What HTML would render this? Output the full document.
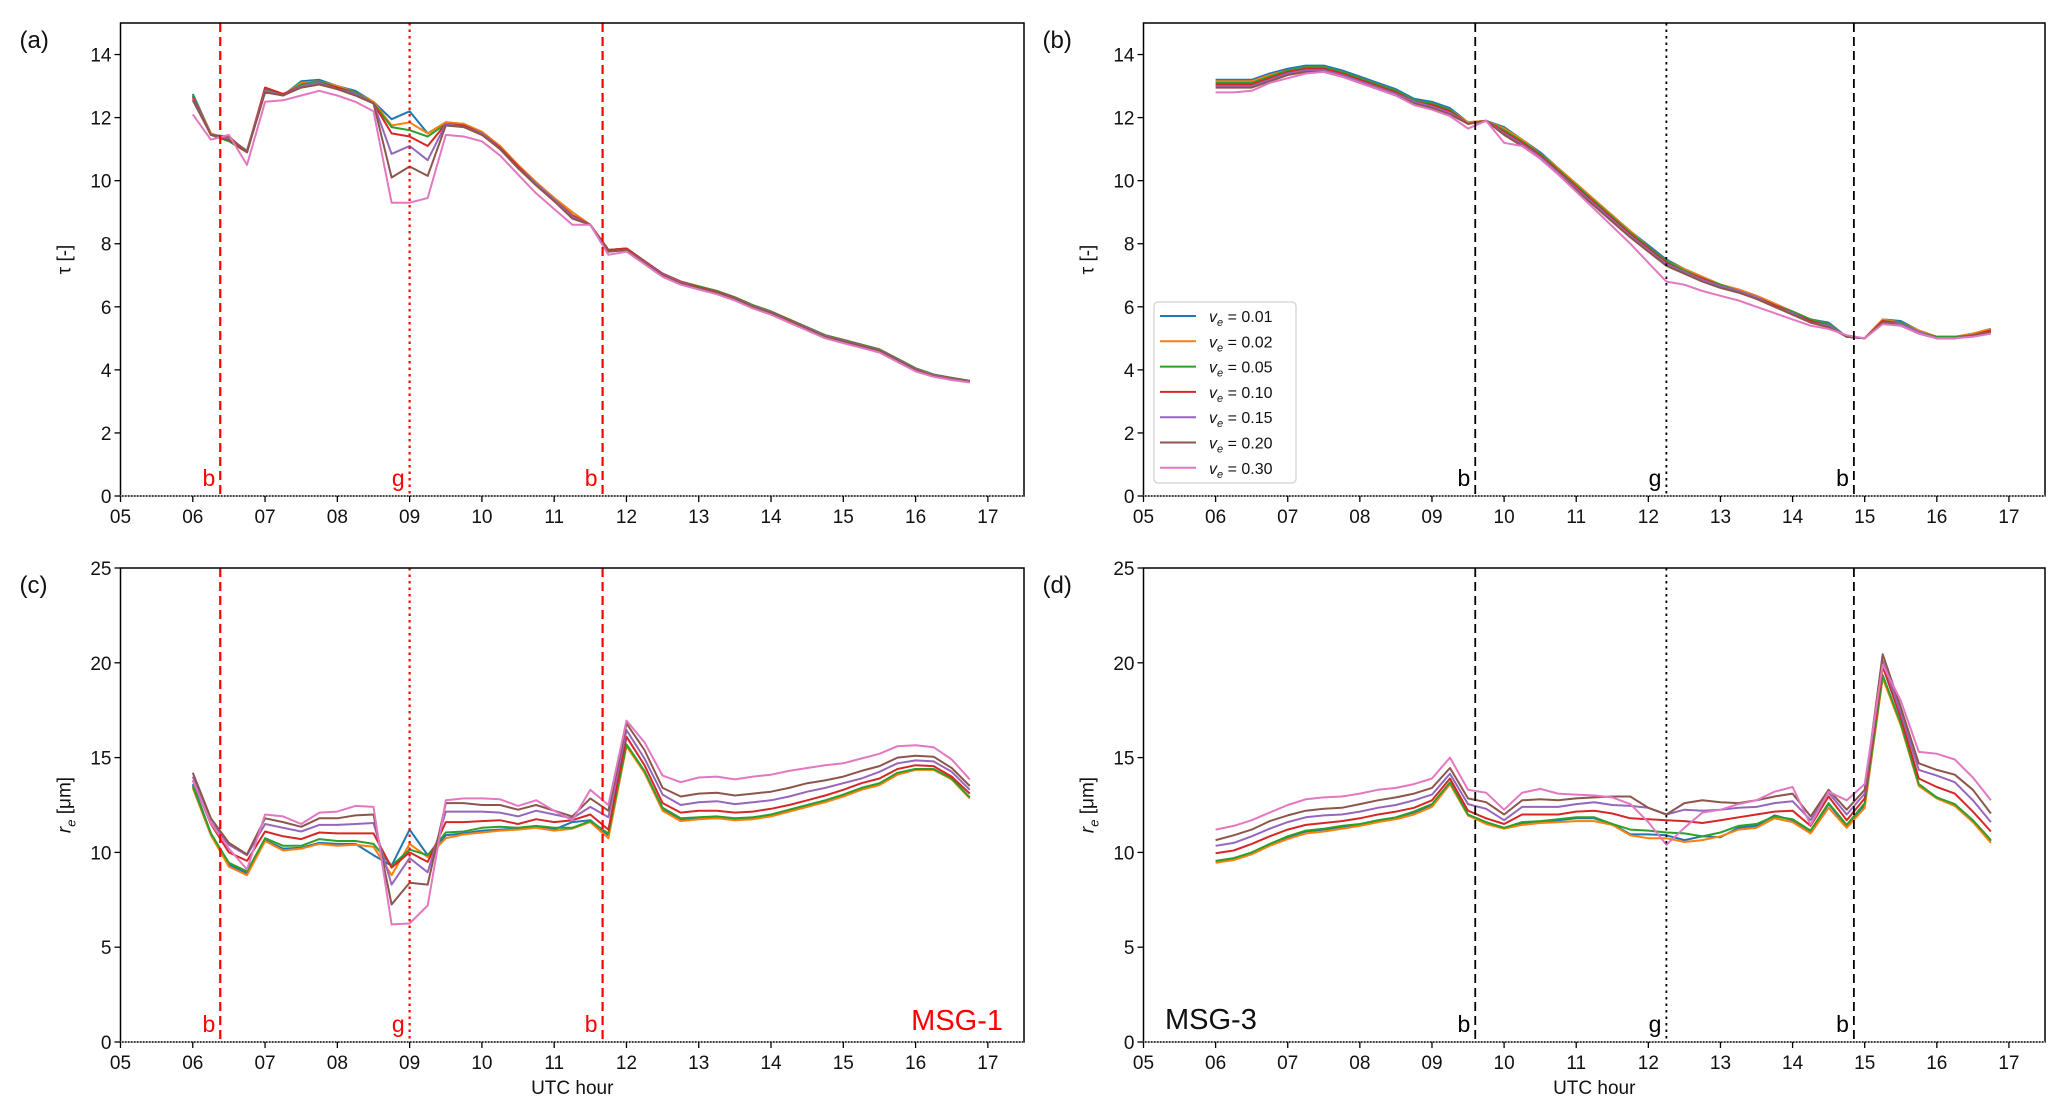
<!DOCTYPE html>
<html><head><meta charset="utf-8"><style>
html,body{margin:0;padding:0;background:#fff;}
svg{display:block;font-family:"Liberation Sans","DejaVu Sans",sans-serif;}
</style></head><body>
<svg id="fig" width="2067" height="1118" viewBox="0 0 2067 1118" xmlns="http://www.w3.org/2000/svg"></svg>
<script>
const hours = [];
for (let i = 0; i < 44; i++) hours.push(6 + i * 0.25);
const seriesLabels = ["0.01","0.02","0.05","0.10","0.15","0.20","0.30"];
const seriesColors = ["#1f77b4","#ff7f0e","#2ca02c","#d62728","#9467bd","#8c564b","#e377c2"];
const xTickLabels = ["05","06","07","08","09","10","11","12","13","14","15","16","17"];
const tauTicks = [0,2,4,6,8,10,12,14];
const reTicks = [0,5,10,15,20,25];

const tauA_001=[12.75,11.5,11.3,10.95,12.9,12.7,13.15,13.2,13.0,12.85,12.5,11.95,12.2,11.5,11.85,11.8,11.55,11.1,10.5,9.95,9.45,9.0,8.6,7.8,7.85,7.45,7.05,6.8,6.65,6.5,6.3,6.05,5.85,5.6,5.35,5.1,4.95,4.8,4.65,4.35,4.05,3.85,3.75,3.65];
const tauA_002=[12.7,11.5,11.3,10.95,12.95,12.7,13.1,13.15,13.0,12.8,12.5,11.75,11.85,11.5,11.85,11.8,11.55,11.1,10.5,9.95,9.45,9.0,8.6,7.8,7.85,7.45,7.05,6.8,6.65,6.5,6.3,6.05,5.85,5.6,5.35,5.1,4.95,4.8,4.65,4.35,4.05,3.85,3.75,3.65];
const tauA_005=[12.7,11.45,11.25,10.9,12.9,12.7,13.05,13.15,12.95,12.8,12.45,11.7,11.6,11.4,11.8,11.75,11.5,11.05,10.45,9.9,9.4,8.9,8.6,7.8,7.85,7.45,7.05,6.8,6.65,6.5,6.3,6.05,5.85,5.6,5.35,5.1,4.95,4.8,4.65,4.35,4.05,3.85,3.75,3.65];
const tauA_010=[12.65,11.45,11.3,10.9,12.95,12.75,13.0,13.1,12.95,12.75,12.45,11.5,11.4,11.1,11.8,11.75,11.5,11.05,10.45,9.9,9.4,8.9,8.6,7.8,7.85,7.45,7.05,6.8,6.62,6.48,6.28,6.03,5.83,5.58,5.33,5.08,4.93,4.78,4.63,4.33,4.03,3.83,3.73,3.64];
const tauA_015=[12.6,11.45,11.35,10.95,12.85,12.7,13.0,13.1,12.9,12.75,12.45,10.85,11.1,10.65,11.8,11.7,11.5,11.0,10.4,9.9,9.4,8.85,8.6,7.75,7.8,7.42,7.02,6.78,6.6,6.46,6.26,6.02,5.82,5.56,5.32,5.07,4.92,4.77,4.62,4.32,4.02,3.82,3.72,3.63];
const tauA_020=[12.55,11.45,11.4,10.9,12.8,12.7,12.95,13.05,12.9,12.7,12.45,10.1,10.45,10.15,11.75,11.7,11.45,11.0,10.4,9.85,9.35,8.8,8.6,7.75,7.8,7.4,7.0,6.75,6.6,6.45,6.25,6.0,5.8,5.55,5.3,5.05,4.9,4.75,4.6,4.3,4.0,3.8,3.7,3.62];
const tauA_030=[12.1,11.3,11.45,10.5,12.5,12.55,12.7,12.85,12.7,12.5,12.2,9.3,9.3,9.45,11.45,11.4,11.25,10.8,10.2,9.6,9.1,8.6,8.6,7.65,7.75,7.35,6.95,6.7,6.55,6.4,6.2,5.95,5.75,5.5,5.25,5.0,4.85,4.7,4.55,4.25,3.95,3.78,3.68,3.6];

const tauB_001=[13.2,13.2,13.2,13.4,13.55,13.65,13.65,13.5,13.3,13.1,12.9,12.6,12.5,12.3,11.85,11.9,11.7,11.3,10.9,10.4,9.9,9.4,8.9,8.4,7.95,7.5,7.2,6.95,6.7,6.55,6.35,6.1,5.85,5.6,5.5,5.05,5.0,5.6,5.55,5.25,5.05,5.05,5.15,5.3];
const tauB_002=[13.15,13.15,13.15,13.35,13.5,13.6,13.6,13.45,13.25,13.05,12.85,12.55,12.45,12.25,11.85,11.9,11.65,11.3,10.85,10.4,9.9,9.4,8.9,8.4,7.9,7.45,7.2,6.95,6.7,6.55,6.35,6.1,5.85,5.6,5.45,5.05,5.0,5.6,5.5,5.25,5.05,5.05,5.15,5.3];
const tauB_005=[13.1,13.1,13.1,13.3,13.5,13.6,13.6,13.45,13.25,13.05,12.85,12.55,12.45,12.25,11.8,11.9,11.6,11.25,10.85,10.35,9.85,9.35,8.85,8.35,7.9,7.45,7.15,6.9,6.7,6.5,6.3,6.05,5.85,5.6,5.45,5.05,5.0,5.55,5.5,5.2,5.05,5.05,5.1,5.25];
const tauB_010=[13.05,13.05,13.05,13.25,13.45,13.55,13.55,13.4,13.2,13.0,12.8,12.5,12.4,12.2,11.8,11.9,11.55,11.2,10.8,10.3,9.8,9.3,8.8,8.3,7.85,7.4,7.1,6.9,6.65,6.5,6.3,6.05,5.8,5.55,5.4,5.05,5.0,5.55,5.45,5.2,5.0,5.0,5.1,5.25];
const tauB_015=[13.0,13.0,13.0,13.2,13.4,13.5,13.5,13.35,13.15,12.95,12.75,12.5,12.35,12.15,11.8,11.9,11.5,11.15,10.75,10.25,9.75,9.25,8.75,8.25,7.8,7.35,7.1,6.85,6.65,6.5,6.3,6.0,5.8,5.5,5.4,5.05,5.0,5.5,5.45,5.2,5.0,5.0,5.1,5.2];
const tauB_020=[12.95,12.95,12.95,13.15,13.35,13.45,13.45,13.3,13.1,12.9,12.7,12.45,12.3,12.1,11.8,11.9,11.45,11.1,10.7,10.2,9.7,9.2,8.7,8.2,7.75,7.3,7.05,6.8,6.6,6.45,6.25,6.0,5.75,5.5,5.35,5.05,5.0,5.5,5.4,5.15,5.0,5.0,5.1,5.2];
const tauB_030=[12.8,12.8,12.85,13.1,13.25,13.4,13.45,13.3,13.1,12.9,12.7,12.4,12.25,12.05,11.65,11.9,11.2,11.1,10.7,10.2,9.65,9.1,8.55,8.0,7.4,6.8,6.7,6.5,6.35,6.2,6.0,5.8,5.6,5.4,5.3,5.1,5.0,5.45,5.4,5.15,5.0,5.0,5.05,5.15];

const reC_001=[13.6,11.0,9.35,8.9,10.65,10.2,10.25,10.5,10.45,10.45,9.85,9.3,11.2,9.85,10.9,11.0,11.15,11.2,11.25,11.35,11.2,11.6,11.7,10.9,15.65,14.25,12.3,11.7,11.8,11.85,11.75,11.8,11.95,12.2,12.45,12.7,13.0,13.35,13.6,14.15,14.4,14.4,13.85,12.9];
const reC_002=[13.4,10.9,9.25,8.8,10.6,10.1,10.2,10.45,10.35,10.4,10.3,8.8,10.45,9.75,10.75,10.95,11.05,11.15,11.2,11.3,11.15,11.25,11.6,10.75,15.6,14.2,12.2,11.65,11.75,11.8,11.7,11.75,11.9,12.15,12.4,12.65,12.95,13.3,13.55,14.1,14.35,14.35,13.85,12.85];
const reC_005=[13.5,11.0,9.45,9.0,10.75,10.35,10.35,10.7,10.6,10.6,10.45,9.3,10.15,9.85,11.05,11.1,11.3,11.35,11.3,11.4,11.3,11.3,11.65,11.0,15.7,14.3,12.35,11.8,11.85,11.9,11.8,11.85,12.0,12.25,12.5,12.75,13.05,13.4,13.65,14.2,14.4,14.4,13.9,12.9];
const reC_010=[13.8,11.5,10.0,9.55,11.1,10.85,10.7,11.05,11.0,11.0,11.0,9.2,10.0,9.5,11.6,11.6,11.65,11.7,11.5,11.75,11.6,11.7,12.0,11.2,16.1,14.6,12.6,12.1,12.2,12.2,12.1,12.15,12.3,12.5,12.75,13.0,13.3,13.65,13.9,14.4,14.6,14.55,14.0,13.1];
const reC_015=[14.0,11.6,10.4,9.85,11.5,11.3,11.1,11.45,11.45,11.5,11.55,8.3,9.7,8.95,12.15,12.15,12.15,12.1,11.9,12.2,12.0,11.8,12.4,11.85,16.45,14.95,13.05,12.5,12.65,12.7,12.55,12.65,12.75,12.95,13.2,13.4,13.65,13.9,14.25,14.7,14.85,14.8,14.25,13.3];
const reC_020=[14.2,11.8,10.5,9.9,11.8,11.6,11.35,11.8,11.8,11.95,12.0,7.25,8.4,8.3,12.6,12.6,12.5,12.5,12.25,12.5,12.2,11.9,12.85,12.2,16.8,15.4,13.4,12.95,13.1,13.15,13.0,13.1,13.2,13.4,13.65,13.8,14.0,14.3,14.55,15.0,15.1,15.05,14.45,13.5];
const reC_030=[13.8,11.55,10.2,9.1,12.0,11.9,11.5,12.1,12.15,12.45,12.4,6.2,6.25,7.2,12.75,12.85,12.85,12.8,12.45,12.75,12.2,11.7,13.3,12.5,16.95,15.8,14.05,13.7,13.95,14.0,13.85,14.0,14.1,14.3,14.45,14.6,14.7,14.95,15.2,15.6,15.65,15.55,14.9,13.85];

const reD_001=[9.5,9.65,9.95,10.4,10.8,11.1,11.2,11.35,11.45,11.65,11.8,12.1,12.5,13.65,11.95,11.55,11.3,11.55,11.6,11.7,11.8,11.8,11.5,10.95,10.95,10.9,10.65,10.85,10.8,11.3,11.4,11.95,11.7,11.1,12.55,11.4,12.5,19.3,16.8,13.55,12.9,12.5,11.65,10.6];
const reD_002=[9.45,9.6,9.9,10.35,10.7,11.0,11.1,11.25,11.4,11.6,11.75,12.0,12.4,13.6,11.95,11.5,11.25,11.45,11.55,11.6,11.65,11.65,11.45,10.9,10.75,10.75,10.55,10.65,10.85,11.2,11.3,11.8,11.6,11.0,12.35,11.3,12.35,19.2,16.7,13.5,12.85,12.45,11.6,10.5];
const reD_005=[9.55,9.7,10.0,10.45,10.85,11.15,11.25,11.4,11.5,11.7,11.85,12.15,12.55,13.7,12.0,11.6,11.3,11.6,11.65,11.75,11.85,11.85,11.5,11.2,11.15,11.05,11.0,10.85,11.05,11.4,11.5,11.9,11.75,11.15,12.6,11.45,12.6,19.35,16.8,13.6,12.9,12.55,11.7,10.65];
const reD_010=[9.95,10.1,10.45,10.85,11.2,11.45,11.55,11.65,11.8,12.0,12.15,12.35,12.75,13.9,12.2,11.8,11.5,12.0,12.0,12.0,12.15,12.2,12.05,11.8,11.75,11.7,11.65,11.55,11.7,11.85,12.0,12.15,12.2,11.4,12.95,11.7,12.85,19.8,17.1,13.9,13.45,13.1,12.15,11.1];
const reD_015=[10.35,10.5,10.85,11.25,11.6,11.85,11.95,12.0,12.15,12.35,12.5,12.75,13.05,14.15,12.55,12.3,11.7,12.4,12.4,12.4,12.55,12.65,12.5,12.45,12.35,12.0,12.25,12.2,12.25,12.35,12.4,12.6,12.7,11.7,13.15,12.0,13.1,20.1,17.35,14.35,14.05,13.7,12.75,11.6];
const reD_020=[10.65,10.9,11.2,11.65,11.95,12.2,12.3,12.35,12.55,12.75,12.9,13.1,13.4,14.45,12.85,12.65,12.0,12.75,12.8,12.75,12.85,12.9,12.95,12.95,12.35,12.0,12.6,12.75,12.65,12.6,12.75,12.95,13.1,11.9,13.3,12.25,13.3,20.45,17.65,14.7,14.35,14.1,13.3,12.05];
const reD_030=[11.2,11.4,11.7,12.1,12.5,12.8,12.9,12.95,13.1,13.3,13.4,13.6,13.9,15.0,13.3,13.15,12.25,13.15,13.35,13.1,13.05,13.0,12.9,12.55,11.6,10.4,11.3,12.1,12.25,12.55,12.75,13.2,13.45,11.45,13.2,12.75,13.6,19.9,18.0,15.3,15.2,14.9,13.95,12.75];

const eventsMSG1 = [6.38, 9.0, 11.67];
const eventsMSG3 = [9.6, 12.25, 14.85];
const eventLabels = ["b","g","b"];

const NS = "http://www.w3.org/2000/svg";
const svg = document.getElementById("fig");
function mk(tag, attrs, parent) {
  const e = document.createElementNS(NS, tag);
  for (const k in attrs) e.setAttribute(k, attrs[k]);
  (parent || svg).appendChild(e);
  return e;
}

const panels = [
  {id:"a", x0:120.5, x1:1024, y0:23, y1:496, ymax:15, ticks:tauTicks, series:[tauA_001,tauA_002,tauA_005,tauA_010,tauA_015,tauA_020,tauA_030], ev:eventsMSG1, evColor:"#ff0000", ylab:"tau"},
  {id:"b", x0:1143.5, x1:2045, y0:23, y1:496, ymax:15, ticks:tauTicks, series:[tauB_001,tauB_002,tauB_005,tauB_010,tauB_015,tauB_020,tauB_030], ev:eventsMSG3, evColor:"#000000", ylab:"tau"},
  {id:"c", x0:120.5, x1:1024, y0:568, y1:1042, ymax:25, ticks:reTicks, series:[reC_001,reC_002,reC_005,reC_010,reC_015,reC_020,reC_030], ev:eventsMSG1, evColor:"#ff0000", ylab:"re"},
  {id:"d", x0:1143.5, x1:2045, y0:568, y1:1042, ymax:25, ticks:reTicks, series:[reD_001,reD_002,reD_005,reD_010,reD_015,reD_020,reD_030], ev:eventsMSG3, evColor:"#000000", ylab:"re"}
];

panels.forEach(p => {
  const g = mk("g", {});
  
  
  const xs = h => p.x0 + (h - 5) / 12.5 * (p.x1 - p.x0);
  const ys = v => p.y1 - v / p.ymax * (p.y1 - p.y0);

  // series lines
  p.series.forEach((arr, si) => {
    const pts = arr.map((v, i) => xs(hours[i]).toFixed(1) + "," + ys(v).toFixed(1)).join(" ");
    const pl = mk("polyline", {points: pts, fill: "none", stroke: seriesColors[si], "stroke-width": 2, "stroke-linejoin": "round"}, g);
    
    
  });

  // event lines
  p.ev.forEach((h, ei) => {
    const x = xs(h);
    const ln = mk("line", {x1: x, x2: x, y1: p.y0, y2: p.y1, stroke: p.evColor, "stroke-width": p.evColor === "#ff0000" ? 2.2 : 1.8, "stroke-dasharray": ei === 1 ? "2.5,4" : "9,5"}, g);
    
    
    const t = mk("text", {x: x - 5, y: p.y1 - 10, "text-anchor": "end", "font-size": 23, fill: p.evColor}, g);
    t.textContent = eventLabels[ei];
    
    
  });

  // frame
  const fr = mk("rect", {x: p.x0, y: p.y0, width: p.x1 - p.x0, height: p.y1 - p.y0, fill: "none", stroke: "#000", "stroke-width": 1.5}, g);
  
  
  const zl = mk("line", {x1: p.x0, x2: p.x1, y1: p.y1, y2: p.y1, stroke: "#fff", "stroke-width": 1, "stroke-dasharray": "1.5,1.5"}, g);
  
  

  // x ticks
  xTickLabels.forEach((lab, i) => {
    const x = xs(5 + i);
    mk("line", {x1: x, x2: x, y1: p.y1, y2: p.y1 + 6, stroke: "#000", "stroke-width": 1.3}, g);
    const t = mk("text", {x: x, y: p.y1 + 27, "text-anchor": "middle", "font-size": 19, fill: "#111"}, g);
    t.textContent = lab;
    
    
  });
  // y ticks
  p.ticks.forEach(v => {
    const y = ys(v);
    mk("line", {x1: p.x0 - 6, x2: p.x0, y1: y, y2: y, stroke: "#000", "stroke-width": 1.3}, g);
    const t = mk("text", {x: p.x0 - 9, y: y + 7, "text-anchor": "end", "font-size": 19, fill: "#111"}, g);
    t.textContent = v;
    
    
  });

  // panel letter
  const pl = mk("text", {x: p.x0 - 101, y: p.y0 + 25, "font-size": 24, fill: "#111"}, g);
  pl.textContent = "(" + p.id + ")";
  
  

  // y label
  const cy = (p.y0 + p.y1) / 2;
  const yl = mk("text", {x: 0, y: 0, "text-anchor": "middle", "font-size": 19, fill: "#111", transform: "translate(" + (p.x0 - 50) + "," + cy + ") rotate(-90)"}, g);
  if (p.ylab === "tau") {
    yl.textContent = "τ [-]";
  } else {
    const a = mk("tspan", {"font-style": "italic"}, yl); a.textContent = "r";
    const b = mk("tspan", {"font-style": "italic", "font-size": 13, dy: 5}, yl); b.textContent = "e";
    const c = mk("tspan", {dy: -5}, yl); c.textContent = " [μm]";
  }
  
  

  if (p.id === "c" || p.id === "d") {
    const xl = mk("text", {x: (p.x0 + p.x1) / 2, y: 1094, "text-anchor": "middle", "font-size": 19, fill: "#111"}, g);
    xl.textContent = "UTC hour";
    
    
  }
});

// satellite annotations
const m1 = mk("text", {x: 1003, y: 1030, "text-anchor": "end", "font-size": 29, fill: "#ff0000"});
m1.textContent = "MSG-1";


const m3 = mk("text", {x: 1165, y: 1029, "font-size": 29, fill: "#111"});
m3.textContent = "MSG-3";



// legend
const lg = mk("g", {});


mk("rect", {x: 1154, y: 302, width: 142, height: 181, rx: 4, fill: "#fff", "fill-opacity": 0.85, stroke: "#d0d0d0", "stroke-width": 1.2}, lg);
seriesLabels.forEach((lab, i) => {
  const y = 316 + i * 25.3;
  const ent = mk("g", {}, lg);
  
  
  mk("line", {x1: 1160, x2: 1196, y1: y, y2: y, stroke: seriesColors[i], "stroke-width": 2}, ent);
  const t = mk("text", {x: 1209, y: y + 6, "font-size": 16, fill: "#111"}, ent);
  const a = mk("tspan", {"font-style": "italic"}, t); a.textContent = "v";
  const b = mk("tspan", {"font-style": "italic", "font-size": 11, dy: 4}, t); b.textContent = "e";
  const c = mk("tspan", {dy: -4}, t); c.textContent = " = " + lab;
});
</script>
</body></html>
